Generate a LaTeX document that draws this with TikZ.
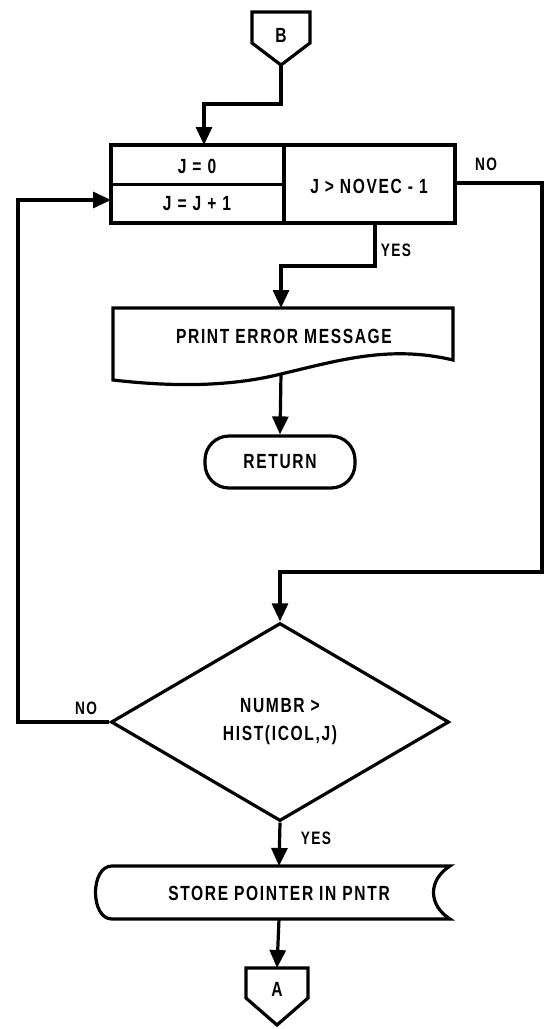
\documentclass[tikz,border=0pt]{standalone}
\usepackage{fontspec}
\setmainfont{Liberation Sans}[FakeStretch=0.76,LetterSpace=8]
\usetikzlibrary{arrows.meta,shapes.geometric}
\begin{document}
\begin{tikzpicture}[x=1pt,y=-1pt,
  every node/.style={font=\fontsize{20.5}{26}\selectfont\bfseries, inner sep=0pt},
  line/.style={line width=3.2pt, line join=miter},
  flow/.style={line, -{Triangle[length=18pt,width=16pt]}},
  lbl/.style={font=\fontsize{18}{20}\selectfont\bfseries}]
\useasboundingbox (0,0) rectangle (547,1029);

% connector B
\draw[line] (252,12) -- (310,12) -- (310,43) -- (281,65) -- (252,43) -- cycle;
\node (B) at (281,35) {B};
\coordinate (Bt) at (281,65);

% loop box
\node[line, draw, minimum width=344pt, minimum height=78pt] (loop) at (283,184) {};
\draw[line] (284,145) -- (284,223);
\draw[line] (111,184.5) -- (284,184.5);
\node (j0) at (197,166) {J = 0};
\node (jinc) at (197,204) {J = J + 1};
\node (test) at (369,186) {J > NOVEC - 1};
\coordinate (loopin) at (204,145);
\coordinate (loopl) at (111,200);
\coordinate (loopr) at (455,183);
\coordinate (loopb) at (375,223);

% print error message (document shape)
\draw[line] (113,308) -- (453,308) -- (453,360)
  .. controls (390,345) and (340,360) .. (281,374)
  .. controls (225,388) and (165,386) .. (113,380) -- cycle;
\node (print) at (284,336) {PRINT ERROR MESSAGE};
\coordinate (printt) at (281,308);
\coordinate (printb) at (281,374);

% return
\node[line, draw, rounded corners=24pt, minimum width=150pt, minimum height=52pt] (ret) at (280,462) {RETURN};

% decision
\node[line, draw, diamond, minimum width=338pt, minimum height=198pt, align=center] (dec) at (280,722) {NUMBR >\\[2pt]HIST(ICOL,J)};

% store pointer (stored data shape)
\draw[line] (112,866) -- (450,866) .. controls (428,880) and (428,905) .. (450,919)
  -- (112,919) .. controls (90,919) and (90,866) .. (112,866) -- cycle;
\node (store) at (279,893) {STORE POINTER IN PNTR};
\coordinate (storet) at (279,866);
\coordinate (storeb) at (279,919);

% connector A
\draw[line] (246,968) -- (308,968) -- (308,998) -- (277,1025) -- (246,998) -- cycle;
\node (A) at (277,989) {A};
\coordinate (At) at (277,968);

% connectors
\draw[flow] (Bt) -- (281,104) -| (loopin);
\draw[flow] (loopb) -- (375,266) -| (printt);
\draw[flow] (printb) -- (ret.north);
\draw[flow] (loopr) -- (542,183) |- (280,572) -- (dec.north);
\draw[flow] (dec.west) -- (18,722) |- (loopl);
\draw[flow] (dec.south) -- (storet);
\draw[flow] (storeb) -- (At);

% labels
\node[lbl] (no1) at (486,164) {NO};
\node[lbl] (yes1) at (396,250) {YES};
\node[lbl] (no2) at (86,708) {NO};
\node[lbl] (yes2) at (316,838) {YES};
\end{tikzpicture}
\end{document}
